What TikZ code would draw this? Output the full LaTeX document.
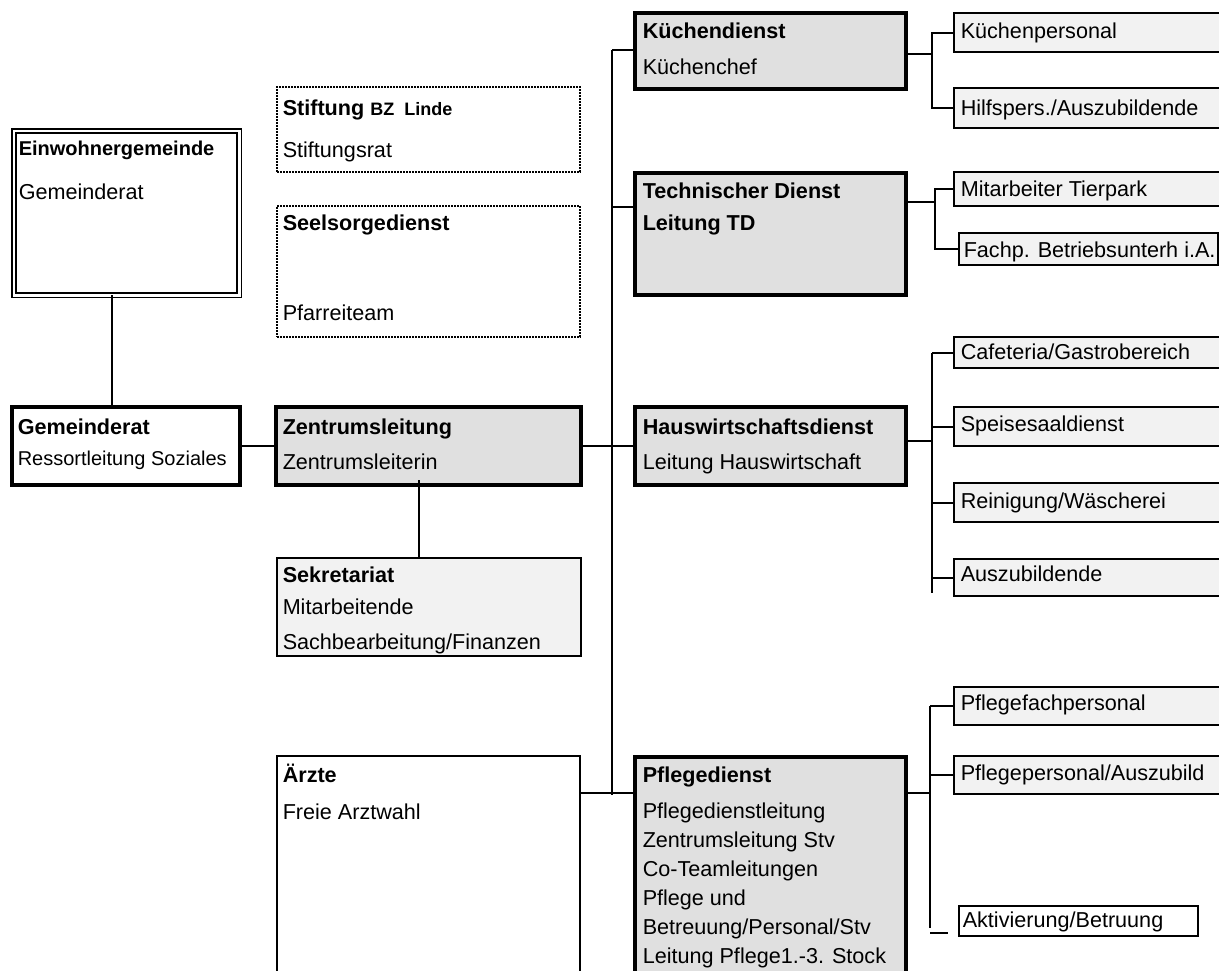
\documentclass[tikz,border=0pt]{standalone}
\usepackage{fontspec}
\setmainfont{Liberation Sans}
\usetikzlibrary{fit,calc}
\definecolor{boxgray}{RGB}{224,224,224}
\definecolor{subgray}{RGB}{242,242,242}
\tikzset{every picture/.style={line width=0.75pt}}

\begin{document}
\begin{tikzpicture}[x=0.5pt,y=0.5pt,yscale=-1,xscale=1,
    box/.style={draw, inner sep=0pt, outer sep=0pt},
    mainbox/.style={box, line width=2pt, fill=boxgray},
    subbox/.style={box, line width=0.9pt, fill=subgray},
    dotbox/.style={box, line width=0.8pt, dash pattern=on 0.8pt off 0.7pt},
    conn/.style={line width=1pt},
    txt/.style={anchor=west, inner sep=0pt, text height=8pt, text depth=1pt, font=\fontsize{10.8}{13}\selectfont},
    hd/.style={txt, font=\fontsize{10.8}{13}\selectfont\bfseries},
    small/.style={txt, font=\fontsize{10}{12}\selectfont}]
    \useasboundingbox (0,0) rectangle (1219,970);

    %Shape: Rectangle (left column)
    \node[box, double, line width=0.8pt, double distance=1.3pt, fit={(13.8,130.8) (239.2,295.2)}] (ewg) {};
    \node[box, line width=2pt, fit={(12,407) (240,485)}] (gr) {};
    \node[mainbox, fit={(276,407) (581,485)}] (zl) {};
    \node[box, line width=0.9pt, fill=subgray, fit={(277,558) (581,656)}] (sek) {};
    \node[dotbox, fit={(277,87) (580,172)}] (stift) {};
    \node[dotbox, fit={(277,206) (580,337)}] (seel) {};
    \node[box, line width=1pt, fit={(277,756) (580,1010)}] (arzt) {};
    %Shape: Rectangle (services)
    \node[mainbox, fit={(635,13) (906,89)}] (kd) {};
    \node[mainbox, fit={(635,173) (906,295)}] (td) {};
    \node[mainbox, fit={(635,407) (906,485)}] (hw) {};
    \node[mainbox, fit={(635,757) (906,1010)}] (pd) {};
    %Shape: Rectangle (teams)
    \node[subbox, fit={(954,13) (1230,52)}] (kp) {};
    \node[subbox, fit={(954,88) (1230,128)}] (hp) {};
    \node[subbox, fit={(954,172) (1230,206)}] (mt) {};
    \node[subbox, line width=1.1pt, fit={(959,233) (1218,265)}] (fb) {};
    \node[subbox, fit={(954,337) (1230,368)}] (caf) {};
    \node[subbox, fit={(954,407) (1230,446)}] (spd) {};
    \node[subbox, fit={(954,483) (1230,522)}] (rw) {};
    \node[subbox, fit={(954,559) (1230,596)}] (az) {};
    \node[subbox, fit={(954,687) (1230,725)}] (pfp) {};
    \node[subbox, fit={(954,756) (1230,794)}] (ppa) {};
    \node[box, line width=1.1pt, fill=white, fit={(959,906) (1198,936)}] (akt) {};

    %Straight Lines (left column)
    \draw[conn] (112,0 |- ewg.south) -- (112,0 |- gr.north);
    \draw[conn] (gr.east) -- (zl.west);
    \draw[conn] (419,480) -- (419,0 |- sek.north);
    %Straight Lines (main bus)
    \coordinate (bus-top) at (612,50);
    \coordinate (bus-bot) at (612,795);
    \draw[conn] (bus-top) -- (bus-bot);
    \draw[conn] (bus-top) -- (bus-top -| kd.west);
    \draw[conn] (bus-top |- 0,207) -- (td.west |- 0,207);
    \draw[conn] (zl.east) -- (hw.west);
    \draw[conn] (arzt.east |- 0,793) -- (pd.west |- 0,793);
    %Straight Lines (branches)
    \coordinate (kd-br) at (932,54);
    \draw[conn] (kd.east |- kd-br) -- (kd-br);
    \draw[conn] (kp.west) -| (kd-br) |- (hp.west);
    \coordinate (td-br) at (935,202);
    \draw[conn] (td.east |- td-br) -- (td-br);
    \draw[conn] (mt.west) -| (td-br) |- (fb.west);
    \coordinate (hw-br) at (932,441);
    \draw[conn] (hw.east |- hw-br) -- (hw-br);
    \draw[conn] (hw-br |- caf.west) -- (hw-br |- 0,593);
    \foreach \n in {caf,spd,rw,az}
      \draw[conn] (\n.west) -- (\n.west -| hw-br);
    \coordinate (pd-br) at (930,793);
    \draw[conn] (pd.east |- pd-br) -- (pd-br);
    \draw[conn] (pd-br |- pfp.west) -- (pd-br |- 0,928);
    \foreach \n in {pfp,ppa}
      \draw[conn] (\n.west) -- (\n.west -| pd-br);
    \draw[conn] (pd-br |- 0,933) -- (948,933);

    % Text Node
    \node[hd, font=\fontsize{10}{12}\selectfont\bfseries] (ewg-t) at (18,148) {Einwohnergemeinde};
    \node[txt] (ewg-n) at (18,192) {Gemeinderat};
    \node[hd] (gr-t) at (17,427) {Gemeinderat};
    \node[small] (gr-n) at (17,458) {Ressortleitung Soziales};
    \node[hd] (zl-t) at (282,427) {Zentrumsleitung};
    \node[txt] (zl-n) at (282,462) {Zentrumsleiterin};
    \node[hd] (stift-t) at (282,108) {Stiftung {\fontsize{9}{11}\selectfont BZ\ \ Linde}};
    \node[txt] (stift-n) at (282,150) {Stiftungsrat};
    \node[hd] (seel-t) at (282,223) {Seelsorgedienst};
    \node[txt] (seel-n) at (282,313) {Pfarreiteam};
    \node[hd] (sek-t) at (282,575) {Sekretariat};
    \node[txt] (sek-n1) at (282,607) {Mitarbeitende};
    \node[txt] (sek-n2) at (282,642) {Sachbearbeitung/Finanzen};
    \node[hd] (arzt-t) at (282,775) {Ärzte};
    \node[txt] (arzt-n) at (282,812) {Freie Arztwahl};
    % Text Node
    \node[hd] (kd-t) at (642,31) {Küchendienst};
    \node[txt] (kd-n) at (642,67) {Küchenchef};
    \node[hd] (td-t) at (642,191) {Technischer Dienst};
    \node[hd] (td-n) at (642,223) {Leitung TD};
    \node[hd] (hw-t) at (642,427) {Hauswirtschaftsdienst};
    \node[txt] (hw-n) at (642,462) {Leitung Hauswirtschaft};
    \node[hd] (pd-t) at (642,775) {Pflegedienst};
    \foreach \t [count=\i] in {Pflegedienstleitung, Zentrumsleitung Stv, Co-Teamleitungen, Pflege und, Betreuung/Personal/Stv, Leitung Pflege1.-3. Stock}
      \node[txt] (pd-n\i) at (642,{782+29*\i}) {\t};
    % Text Node
    \node[txt] (kp-t) at (960,31) {Küchenpersonal};
    \node[txt] (hp-t) at (960,108) {Hilfspers./Auszubildende};
    \node[txt] (mt-t) at (960,189) {Mitarbeiter Tierpark};
    \node[txt] (fb-t) at (963,250) {Fachp. Betriebsunterh i.A.};
    \node[txt] (caf-t) at (960,352) {Cafeteria/Gastrobereich};
    \node[txt] (spd-t) at (960,424) {Speisesaaldienst};
    \node[txt] (rw-t) at (960,501) {Reinigung/Wäscherei};
    \node[txt] (az-t) at (960,574) {Auszubildende};
    \node[txt] (pfp-t) at (960,703) {Pflegefachpersonal};
    \node[txt] (ppa-t) at (960,773) {Pflegepersonal/Auszubild};
    \node[txt] (akt-t) at (962,920) {Aktivierung/Betruung};

\end{tikzpicture}
\end{document}
